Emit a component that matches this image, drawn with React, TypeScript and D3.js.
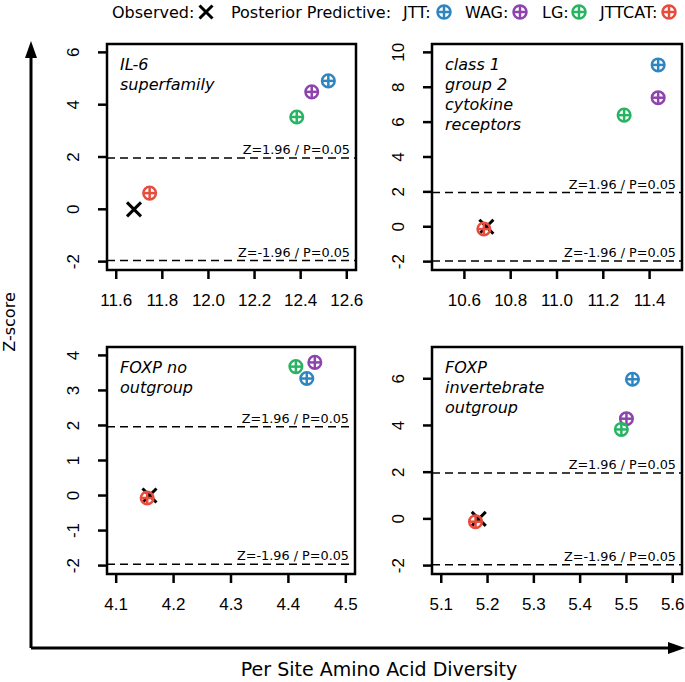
import React from "react";
import * as d3 from "d3";

// ---------- data ----------
const panelTitles: string[][] = [
  ["IL-6", "superfamily"],
  ["class 1", "group 2", "cytokine", "receptors"],
  ["FOXP no", "outgroup"],
  ["FOXP", "invertebrate", "outgroup"],
];
const xLimits: [number, number][] = [[11.6, 12.6], [10.5, 11.5], [4.1, 4.5], [5.1, 5.6]];
const yLimits: [number, number][] = [[-2, 6], [-2, 10], [-2, 4], [-2, 7]];
const xTicks: number[][] = [
  [11.6, 11.8, 12.0, 12.2, 12.4, 12.6],
  [10.6, 10.8, 11.0, 11.2, 11.4],
  [4.1, 4.2, 4.3, 4.4, 4.5],
  [5.1, 5.2, 5.3, 5.4, 5.5, 5.6],
];
const yTicks: number[][] = [
  [-2, 0, 2, 4, 6],
  [-2, 0, 2, 4, 6, 8, 10],
  [-2, -1, 0, 1, 2, 3, 4],
  [-2, 0, 2, 4, 6],
];

const observedDiversity = [11.677, 10.695, 4.158, 5.181];
const observedZ = [0, 0, 0, 0];

const jttDiversity = [12.52, 11.437, 4.432, 5.513];
const jttZ = [4.91, 9.28, 3.34, 5.98];
const wagDiversity = [12.448, 11.437, 4.446, 5.5];
const wagZ = [4.49, 7.4, 3.8, 4.29];
const lgDiversity = [12.383, 11.29, 4.413, 5.489];
const lgZ = [3.53, 6.4, 3.68, 3.83];
const jttcatDiversity = [11.745, 10.684, 4.154, 5.174];
const jttcatZ = [0.62, -0.13, -0.07, -0.12];

const modelNames = ["JTT", "WAG", "LG", "JTTCAT"];
const modelColors = ["#2E86C1", "#8E44AD", "#28B463", "#E74C3C"];
const modelX = [jttDiversity, wagDiversity, lgDiversity, jttcatDiversity];
const modelZ = [jttZ, wagZ, lgZ, jttcatZ];

const criticalZ = [1.96, -1.96];
const criticalLabels = ["Z=1.96 / P=0.05", "Z=-1.96 / P=0.05"];

// ---------- layout ----------
const W = 685;
const H = 682;
const boxes = [
  { x: 107, y: 44, w: 249, h: 226 },
  { x: 432, y: 44, w: 250, h: 226 },
  { x: 107, y: 347, w: 248, h: 227 },
  { x: 432, y: 347, w: 250, h: 227 },
];
const SANS = "DejaVu Sans, Verdana, sans-serif";
const TICKFONT = "Liberation Sans, Arial, Helvetica, sans-serif";

function ext([a, b]: [number, number]): [number, number] {
  const d = (b - a) * 0.04;
  return [a - d, b + d];
}

function CircleCross({ cx, cy, color, r = 6.3 }: { cx: number; cy: number; color: string; r?: number }) {
  return (
    <g stroke={color} strokeWidth={2.5} fill="none">
      <circle cx={cx} cy={cy} r={r} />
      <line x1={cx - r} y1={cy} x2={cx + r} y2={cy} />
      <line x1={cx} y1={cy - r} x2={cx} y2={cy + r} />
    </g>
  );
}

function Cross({ cx, cy, s = 7 }: { cx: number; cy: number; s?: number }) {
  return (
    <g stroke="#000" strokeWidth={3}>
      <line x1={cx - s} y1={cy - s} x2={cx + s} y2={cy + s} />
      <line x1={cx - s} y1={cy + s} x2={cx + s} y2={cy - s} />
    </g>
  );
}

function Panel({ i }: { i: number }) {
  const b = boxes[i];
  const x = d3.scaleLinear().domain(ext(xLimits[i])).range([b.x, b.x + b.w]);
  const y = d3.scaleLinear().domain(ext(yLimits[i])).range([b.y + b.h, b.y]);
  const fmt = d3.format(".1f");
  const tickLen = 9;
  return (
    <g>
      {/* critical lines */}
      {criticalZ.map((z, k) => (
        <g key={k}>
          <line
            x1={b.x}
            x2={b.x + b.w}
            y1={y(z)}
            y2={y(z)}
            stroke="#000"
            strokeWidth={1.5}
            strokeDasharray="8,5"
          />
          <text
            x={b.x + b.w - 6}
            y={y(z) - 4}
            textAnchor="end"
            fontFamily={SANS}
            fontSize={12.8}
            fill="#000"
          >
            {criticalLabels[k]}
          </text>
        </g>
      ))}
      {/* title */}
      <text fontFamily={SANS} fontStyle="italic" fontSize={16} fill="#000">
        {panelTitles[i].map((t, k) => (
          <tspan key={k} x={b.x + 13} y={b.y + 26 + k * 20}>
            {t}
          </tspan>
        ))}
      </text>
      {/* observed */}
      <Cross cx={x(observedDiversity[i])} cy={y(observedZ[i])} />
      {/* predictive */}
      {modelNames.map((m, k) => (
        <CircleCross key={m} cx={x(modelX[k][i])} cy={y(modelZ[k][i])} color={modelColors[k]} />
      ))}
      {/* box */}
      <rect x={b.x} y={b.y} width={b.w} height={b.h} fill="none" stroke="#000" strokeWidth={2.5} />
      {/* x axis */}
      {xTicks[i].map((t) => (
        <g key={t}>
          <line x1={x(t)} x2={x(t)} y1={b.y + b.h} y2={b.y + b.h + tickLen} stroke="#000" strokeWidth={2.5} />
          <text
            x={x(t)}
            y={b.y + b.h + 36}
            textAnchor="middle"
            fontFamily={TICKFONT}
            fontSize={17}
            fill="#000"
          >
            {fmt(t)}
          </text>
        </g>
      ))}
      {/* y axis */}
      {yTicks[i].map((t) => (
        <g key={t}>
          <line x1={b.x - tickLen} x2={b.x} y1={y(t)} y2={y(t)} stroke="#000" strokeWidth={2.5} />
          <text
            transform={`translate(${b.x - 28},${y(t)}) rotate(-90)`}
            textAnchor="middle"
            fontFamily={TICKFONT}
            fontSize={17}
            fill="#000"
          >
            {t}
          </text>
        </g>
      ))}
    </g>
  );
}

const legendTextX = { observed: 112, posterior: 231 };
const legendItemX = [403, 465, 542, 600];
const legendMarkX = [444, 520, 579, 669];

export default function App() {
  return (
    <svg
      width={W}
      height={H}
      viewBox={`0 0 ${W} ${H}`}
      style={{ position: "absolute", left: 0, top: 0, background: "#fff" }}
    >
      <rect x={0} y={0} width={W} height={H} fill="#fff" />
      {/* legend */}
      <g fontFamily={SANS} fontSize={16} fill="#000">
        <text x={legendTextX.observed} y={18}>Observed:</text>
        <Cross cx={206} cy={12} s={6.5} />
        <text x={legendTextX.posterior} y={18}>Posterior Predictive:</text>
        {modelNames.map((m, k) => (
          <g key={m}>
            <text x={legendItemX[k]} y={18}>{m + ":"}</text>
            <CircleCross cx={legendMarkX[k]} cy={12} color={modelColors[k]} r={6.5} />
          </g>
        ))}
      </g>
      {/* panels */}
      {[0, 1, 2, 3].map((i) => (
        <Panel key={i} i={i} />
      ))}
      {/* outer axes */}
      <g stroke="#000" strokeWidth={3} fill="#000">
        <line x1={31} y1={648} x2={31} y2={55} />
        <polygon points="31,41 25,58 37,58" stroke="none" />
        <line x1={31} y1={648} x2={670} y2={648} />
        <polygon points="685,648 668,642 668,654" stroke="none" />
      </g>
      <text
        transform="translate(15,322) rotate(-90)"
        textAnchor="middle"
        fontFamily={SANS}
        fontSize={16}
        fill="#000"
      >
        Z-score
      </text>
      <text x={379} y={676} textAnchor="middle" fontFamily={SANS} fontSize={19} fill="#000">
        Per Site Amino Acid Diversity
      </text>
    </svg>
  );
}
